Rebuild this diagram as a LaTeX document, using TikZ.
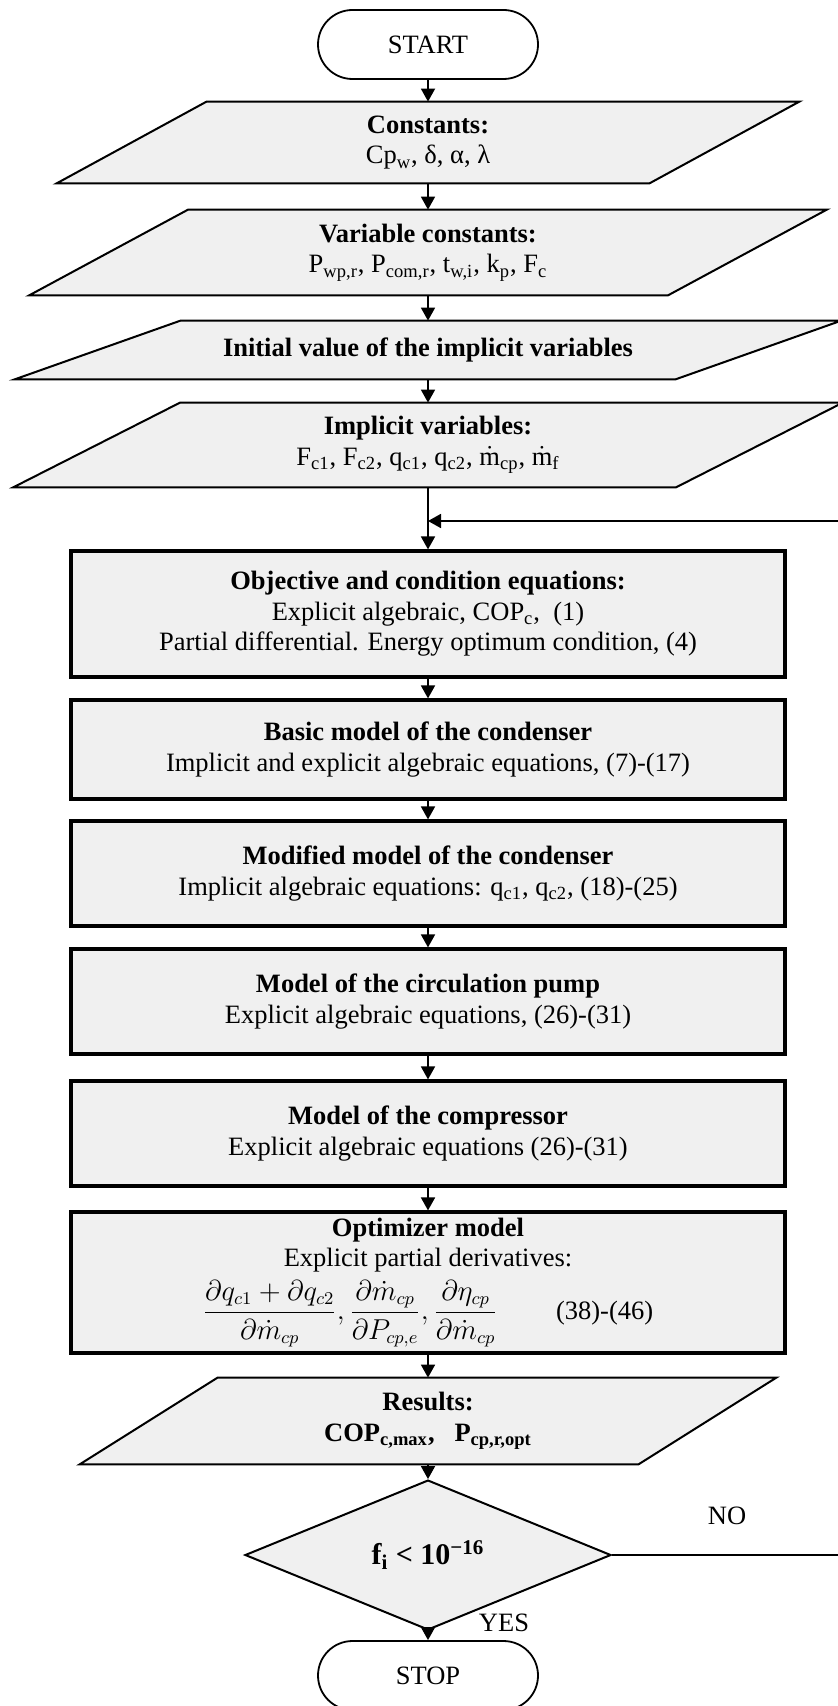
\documentclass[tikz,border=0pt]{standalone}
\usepackage{fontspec}
\setmainfont{Liberation Serif}
\usetikzlibrary{shapes.geometric,shapes.misc,arrows.meta,backgrounds}
\definecolor{boxgray}{gray}{0.94}
\newcommand{\low}[1]{\textsubscript{#1}}
\newcommand{\mdot}[1]{$\dot{\mathrm{m}}_{\mathrm{#1}}$}

\begin{document}
\begin{tikzpicture}[x=0.5pt,y=-0.5pt,
    terminal/.style={rounded rectangle,draw,line width=0.9pt,fill=white,
      minimum width=112pt,minimum height=34.5pt},
    iobox/.style 2 args={rectangle,minimum width=#1,minimum height=#2},
    procbox/.style={rectangle,draw,line width=1.6pt,fill=boxgray,
      minimum width=357pt,minimum height=#1},
    flow/.style={-{Triangle[length=6.5pt,width=7pt]}}]
    \useasboundingbox (0,0) rectangle (838,1706);
    \begin{scope}[every node/.style={align=center,inner sep=1pt,
        font=\fontsize{13.25}{15.25}\selectfont}]
      \node[terminal] (start) at (428,44.5) {START};
      \node[iobox={296pt}{40.5pt}] (const) at (428,142.5)
        {\textbf{Constants:}\\Cp\low{w}, δ, α, λ};
      \node[iobox={319pt}{42.5pt}] (varconst) at (428,252.5)
        {\textbf{Variable constants:}\\P\low{wp,r}, P\low{com,r}, t\low{w,i}, k\low{p}, F\low{c}};
      \node[iobox={330pt}{29pt}] (init) at (428,350)
        {\textbf{Initial value of the implicit variables}};
      \node[iobox={331pt}{42pt}] (implicit) at (428,445)
        {\textbf{Implicit variables:}\\F\low{c1}, F\low{c2}, q\low{c1}, q\low{c2}, \mdot{cp}, \mdot{f}};
      \node[procbox=63pt] (objective) at (428,614)
        {\textbf{Objective and condition equations:}\\Explicit algebraic, COP\low{c},\ \ (1)\\
         Partial differential. Energy optimum condition, (4)};
      \node[procbox=49.5pt] (basic) at (428,749.5)
        {\textbf{Basic model of the condenser}\\Implicit and explicit algebraic equations, (7)-(17)};
      \node[procbox=52.5pt] (modified) at (428,873.5)
        {\textbf{Modified model of the condenser}\\Implicit algebraic equations: q\low{c1}, q\low{c2}, (18)-(25)};
      \node[procbox=52.5pt] (pump) at (428,1001.5)
        {\textbf{Model of the circulation pump}\\Explicit algebraic equations, (26)-(31)};
      \node[procbox=52.5pt] (compressor) at (428,1133.5)
        {\textbf{Model of the compressor}\\Explicit algebraic equations (26)-(31)};
      \node[procbox=70.5pt] (optimizer) at (428,1282.5)
        {\textbf{Optimizer model}\\Explicit partial derivatives:\\[3pt]
         $\displaystyle\frac{\partial q_{c1}+\partial q_{c2}}{\partial\dot{m}_{cp}},
          \frac{\partial\dot{m}_{cp}}{\partial P_{cp,e}},
          \frac{\partial\eta_{cp}}{\partial\dot{m}_{cp}}$\hspace{2.2em}(38)-(46)};
      \node[iobox={279pt}{43pt}] (results) at (428,1421)
        {\textbf{Results:}\\\textbf{COP\low{c,max},\ \ \ P\low{cp,r,opt}}};
      \node[diamond,draw,line width=1pt,fill=boxgray,minimum width=183pt,minimum height=62pt,
        font=\fontsize{15}{17}\selectfont\bfseries] (check) at (428,1555)
        {f\low{i} < 10\textsuperscript{−16}};
      \node[terminal] (stop) at (428,1675.5) {STOP};
      \node (no) at (727,1516) {NO};
      \node (yes) at (504,1623) {YES};
    \end{scope}
    \begin{scope}[on background layer]
      \foreach \n/\s in {const/37.5pt,varconst/39.75pt,init/41.5pt,implicit/41.75pt,results/34.5pt}
        \filldraw[fill=boxgray,line width=1pt]
          ([xshift=\s]\n.north west) -- ([xshift=\s]\n.north east) --
          ([xshift=-\s]\n.south east) -- ([xshift=-\s]\n.south west) -- cycle;
    \end{scope}
    \coordinate (noturn) at (870,1555);
    \coordinate (loopturn) at (870,521);
    \coordinate (loopin) at (428,521);
    \begin{scope}[every edge/.style={draw=black,line width=0.9pt}]
      \path (start) edge[flow] (const);
      \path (const) edge[flow] (varconst);
      \path (varconst) edge[flow] (init);
      \path (init) edge[flow] (implicit);
      \path (implicit) edge[flow] (objective);
      \path (objective) edge[flow] (basic);
      \path (basic) edge[flow] (modified);
      \path (modified) edge[flow] (pump);
      \path (pump) edge[flow] (compressor);
      \path (compressor) edge[flow] (optimizer);
      \path (optimizer) edge[flow] (results);
      \path (results) edge[flow] (check);
      \path (check) edge[flow] (stop);
    \end{scope}
    \draw[line width=0.9pt,flow] (check.east) -- (noturn) -- (loopturn) -- (loopin);
  \end{tikzpicture}
\end{document}
